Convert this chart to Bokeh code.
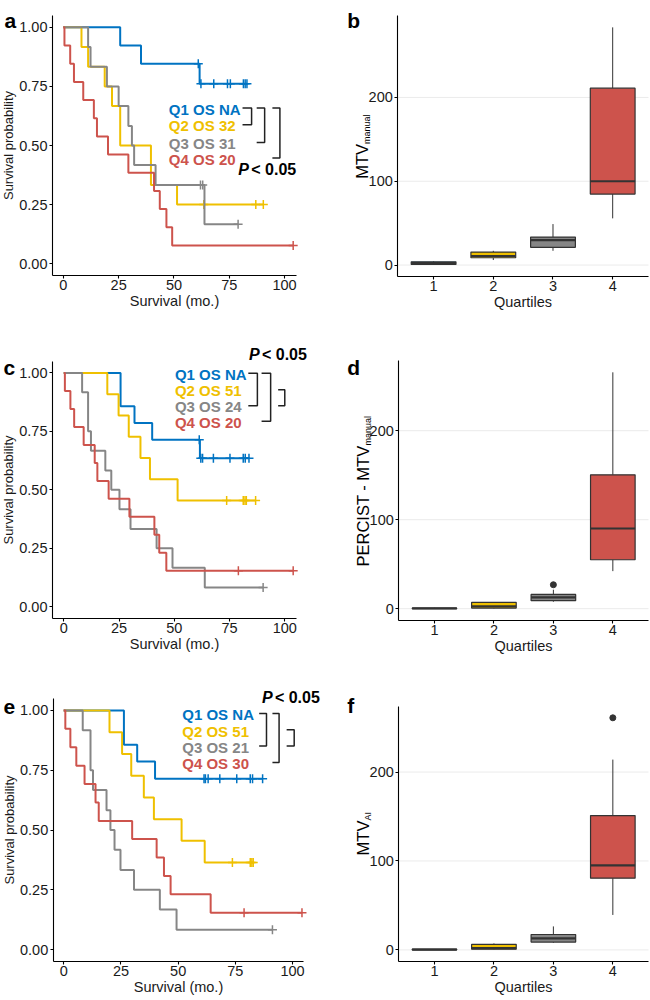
import numpy as np
from bokeh.plotting import figure
from bokeh.layouts import column, row
from bokeh.models import Label, FixedTicker, NumeralTickFormatter, Range1d, LinearAxis
from bokeh.embed import file_html
from bokeh.resources import INLINE

# ---------------- data ----------------
quartiles = ["Q1", "Q2", "Q3", "Q4"]
colors = ["#0073C2", "#EFC000", "#868686", "#CD534C"]
box_positions = [1, 2, 3, 4]

# Panel a (Kaplan-Meier, MTV manual quartiles): drop times, survival after drop, censor times
a_q1_times = [25.7, 35.1, 61.6]
a_q1_surv = [0.923, 0.846, 0.761]
a_q1_cens = [61.0, 62.2, 68.0, 74.2, 75.5, 81.4, 82.2, 83.0]
a_q2_times = [8.2, 11.2, 18.7, 22.0, 25.7, 39.6, 51.4]
a_q2_surv = [0.917, 0.833, 0.750, 0.667, 0.500, 0.333, 0.250]
a_q2_cens = [63.5, 87.0, 90.4]
a_q3_times = [11.2, 12.3, 19.7, 25.0, 29.4, 31.0, 32.0, 41.7, 63.8]
a_q3_surv = [0.917, 0.833, 0.750, 0.667, 0.583, 0.500, 0.417, 0.333, 0.167]
a_q3_cens = [62.0, 63.0, 79.0]
a_q4_times = [0.5, 3.1, 4.8, 9.0, 13.8, 15.2, 20.2, 29.4, 41.0, 43.6, 46.6, 49.2]
a_q4_surv = [0.923, 0.846, 0.769, 0.692, 0.615, 0.538, 0.462, 0.385, 0.308, 0.231, 0.154, 0.077]
a_q4_cens = [103.9]
a_legend = ["Q1 OS NA", "Q2 OS 32", "Q3 OS 31", "Q4 OS 20"]
a_pairs = [(0, 1), (0, 2), (0, 3)]

# Panel c (Kaplan-Meier, PERCIST MTV quartiles)
c_q1_times = [25.7, 32.0, 40.0, 61.6]
c_q1_surv = [0.857, 0.786, 0.714, 0.635]
c_q1_cens = [61.3, 62.0, 62.8, 67.7, 75.2, 81.2, 82.1, 83.8]
c_q2_times = [19.7, 24.8, 29.4, 34.7, 39.0, 51.5]
c_q2_surv = [0.909, 0.818, 0.727, 0.636, 0.545, 0.455]
c_q2_cens = [73.7, 81.2, 82.0, 82.6, 86.8]
c_q3_times = [8.3, 11.0, 12.3, 18.8, 21.5, 25.2, 30.2, 42.0, 49.2, 63.8]
c_q3_surv = [0.917, 0.750, 0.667, 0.583, 0.500, 0.417, 0.333, 0.250, 0.167, 0.083]
c_q3_cens = [90.2]
c_q4_times = [0.5, 3.0, 4.7, 9.0, 14.0, 15.2, 20.3, 29.7, 41.0, 43.2, 46.4]
c_q4_surv = [0.923, 0.846, 0.769, 0.692, 0.615, 0.538, 0.462, 0.385, 0.308, 0.231, 0.154]
c_q4_cens = [79.0, 103.8]
c_legend = ["Q1 OS NA", "Q2 OS 51", "Q3 OS 24", "Q4 OS 20"]
c_pairs = [(0, 2), (0, 3), (1, 2)]

# Panel e (Kaplan-Meier, AI MTV quartiles)
e_q1_times = [26.3, 32.1, 39.9]
e_q1_surv = [0.857, 0.786, 0.714]
e_q1_cens = [61.3, 61.9, 63.1, 68.2, 75.6, 81.5, 82.5, 86.9]
e_q2_times = [20.0, 25.5, 29.5, 35.0, 39.4, 51.5, 61.6]
e_q2_surv = [0.909, 0.818, 0.727, 0.636, 0.545, 0.455, 0.364]
e_q2_cens = [73.7, 81.5, 82.2, 82.8]
e_q3_times = [8.3, 11.7, 12.8, 18.7, 20.4, 22.2, 24.8, 30.7, 42.0, 49.3]
e_q3_surv = [0.917, 0.750, 0.667, 0.583, 0.500, 0.417, 0.333, 0.250, 0.167, 0.083]
e_q3_cens = [91.2]
e_q4_times = [0.7, 2.9, 5.5, 9.1, 13.9, 15.3, 29.9, 40.6, 43.8, 46.7, 64.2]
e_q4_surv = [0.923, 0.846, 0.769, 0.692, 0.615, 0.538, 0.462, 0.385, 0.308, 0.231, 0.154]
e_q4_cens = [78.8, 104.1]
e_legend = ["Q1 OS NA", "Q2 OS 51", "Q3 OS 21", "Q4 OS 30"]
e_pairs = [(0, 2), (0, 3), (1, 2)]

# Box plots (lower whisker, Q1, median, Q3, upper whisker, outliers)
b_lower = [0.5, 6.0, 17.0, 55.7]
b_q1 = [0.8, 8.7, 21.1, 84.7]
b_median = [2.4, 10.8, 29.8, 100.0]
b_q3 = [3.9, 15.5, 33.4, 211.0]
b_upper = [4.7, 17.0, 48.9, 283.6]
b_out_x = []
b_out_y = []

d_lower = [0.0, 0.3, 7.8, 42.2]
d_q1 = [0.1, 0.7, 9.0, 55.0]
d_median = [0.3, 2.5, 12.7, 90.1]
d_q3 = [0.6, 7.1, 16.0, 150.4]
d_upper = [1.0, 7.5, 21.3, 265.6]
d_out_x = [3]
d_out_y = [26.9]

f_lower = [0.0, 0.3, 8.0, 39.3]
f_q1 = [0.1, 0.7, 8.8, 80.7]
f_median = [0.4, 2.0, 12.9, 95.0]
f_q3 = [0.8, 6.3, 17.3, 151.0]
f_upper = [1.0, 7.3, 26.4, 214.0]
f_out_x = [4]
f_out_y = [261.0]

km_x_ticks = [0, 25, 50, 75, 100]
km_y_ticks = [0.0, 0.25, 0.5, 0.75, 1.0]
box_y_ticks = [0, 100, 200]

# ---------------- styling / layout ----------------
FONT = "Liberation Sans"
INK = "#1a1a1a"
EDGE = "#333333"
KM_YR = (-0.05, 1.05)
BOX_XR = (0.4, 4.6)


class Geo:
    """Canvas W x H; the panel box sits l/r/t/b pixels inside the canvas."""
    def __init__(self, W, H, l, r, t, b, xr, yr):
        self.W, self.H, self.l, self.r, self.t, self.b = W, H, l, r, t, b
        self.xr, self.yr = xr, yr
        self.fw = W - l - r
        self.fh = H - t - b
        self.ux = (xr[1] - xr[0]) / self.fw
        self.uy = (yr[1] - yr[0]) / self.fh

    def x(self, dx):
        return self.xr[0] + dx * self.ux

    def y(self, dy):
        return self.yr[1] - dy * self.uy


def box_range(lower, upper, outy):
    lo = min(lower + outy)
    hi = max(upper + outy)
    span = hi - lo
    return (lo - 0.05 * span, hi + 0.05 * span)


def make_fig(g):
    p = figure(width=g.W, height=g.H,
               x_range=Range1d(g.xr[0] - g.l * g.ux, g.xr[1] + g.r * g.ux),
               y_range=Range1d(g.yr[0] - g.b * g.uy, g.yr[1] + g.t * g.uy),
               x_axis_location=None, y_axis_location=None, title=None,
               toolbar_location=None, output_backend="svg", min_border=0)
    p.outline_line_color = None
    p.background_fill_color = "white"
    p.border_fill_color = "white"
    for gr in p.grid:
        gr.visible = False
    xaxis = LinearAxis(fixed_location=g.yr[0], bounds=g.xr)
    yaxis = LinearAxis(fixed_location=g.xr[0], bounds=g.yr)
    p.add_layout(xaxis, "below")
    p.add_layout(yaxis, "left")
    for ax in (xaxis, yaxis):
        ax.axis_line_color = "black"
        ax.axis_line_width = 1.1
        ax.major_tick_line_color = "black"
        ax.major_tick_line_width = 1.1
        ax.major_tick_out = 3
        ax.major_tick_in = 0
        ax.minor_tick_line_color = None
        ax.major_label_text_font = FONT
        ax.major_label_text_font_size = "14.5px"
        ax.major_label_text_color = INK
        ax.axis_label_text_font = FONT
        ax.axis_label_text_font_style = "normal"
        ax.axis_label_text_color = INK
    xaxis.major_label_standoff = 1
    yaxis.major_label_standoff = 2
    xaxis.axis_label_standoff = 0
    yaxis.axis_label_standoff = 0
    xaxis.axis_label_text_font_size = "14.5px"
    yaxis.axis_label_text_font_size = "13px"
    return p, xaxis, yaxis


def panel_letter(p, g, letter, dx, dy):
    p.add_layout(Label(x=g.x(dx), y=g.y(dy), text=letter, text_font=FONT,
                       text_font_style="bold", text_font_size="21px",
                       text_color="black", text_align="left", text_baseline="alphabetic"))


def surv_at(times, surv, t):
    s = 1.0
    for ti, si in zip(times, surv):
        if ti <= t:
            s = si
    return s


def km_panel(g, groups, legend, pairs, lx, ly, bx, pl, py, letter, ldx, ldy):
    p, xaxis, yaxis = make_fig(g)
    xaxis.ticker = FixedTicker(ticks=km_x_ticks)
    yaxis.ticker = FixedTicker(ticks=km_y_ticks)
    yaxis.formatter = NumeralTickFormatter(format="0.00")
    xaxis.axis_label = "Survival (mo.)"
    yaxis.axis_label = "Survival probability"
    for (times, surv, cens), col in zip(groups, colors):
        end = max(cens + times)
        xs = [0.0] + times + [end]
        ys = [1.0] + surv + [surv[-1]]
        p.step(xs, ys, mode="after", line_color=col, line_width=2)
        p.scatter(cens, [surv_at(times, surv, c) for c in cens], marker="cross",
                  size=9, line_color=col, line_width=1.5)
    for txt, yy, col in zip(legend, ly, colors):
        p.add_layout(Label(x=lx, y=yy, text=txt, text_color=col, text_font=FONT,
                           text_font_style="bold", text_font_size="15px",
                           text_align="left", text_baseline="middle"))
    bxs, bys = [], []
    for (i, j), (x0, x1) in zip(pairs, bx):
        y0 = ly[i] + 0.005
        y1 = ly[j] + 0.005
        bxs.append([x0, x1, x1, x0])
        bys.append([y0, y0, y1, y1])
    p.multi_line(bxs, bys, line_color="#222222", line_width=1.5)
    p.add_layout(Label(x=pl, y=py, text="P", text_color="black", text_font=FONT,
                       text_font_style="bold italic", text_font_size="16px",
                       text_align="left", text_baseline="middle"))
    p.add_layout(Label(x=pl + 13 * g.ux, y=py, text="< 0.05", text_color="black",
                       text_font=FONT, text_font_style="bold", text_font_size="16px",
                       text_align="left", text_baseline="middle"))
    panel_letter(p, g, letter, ldx, ldy)
    return p


def box_panel(g, lower, q1, med, q3, upper, ox, oy, main, sub, join_off, letter, ldx, ldy):
    p, xaxis, yaxis = make_fig(g)
    xaxis.ticker = FixedTicker(ticks=box_positions)
    yaxis.ticker = FixedTicker(ticks=box_y_ticks)
    xaxis.axis_label = "Quartiles"
    n = len(box_y_ticks)
    p.segment([g.xr[0]] * n, box_y_ticks, [g.xr[1]] * n, box_y_ticks,
              line_color="#EBEBEB", line_width=1, level="underlay")
    x = box_positions
    p.segment(x, q3, x, upper, line_color=EDGE, line_width=1)
    p.segment(x, lower, x, q1, line_color=EDGE, line_width=1)
    p.vbar(x=x, width=0.75, bottom=q1, top=q3, fill_color=colors,
           line_color=EDGE, line_width=1.2)
    half = 0.375
    p.segment([v - half for v in x], med, [v + half for v in x], med,
              line_color=EDGE, line_width=2.2)
    if ox:
        p.scatter(ox, oy, size=6, color=EDGE)
    yj = g.y(g.fh / 2 + join_off)
    p.add_layout(Label(x=g.x(-36), y=yj, text=main, angle=np.pi / 2, text_font=FONT,
                       text_font_size="16.5px", text_color="black",
                       text_align="right", text_baseline="alphabetic"))
    p.add_layout(Label(x=g.x(-31), y=yj, text=sub, angle=np.pi / 2, text_font=FONT,
                       text_font_size="9px", text_color="black",
                       text_align="left", text_baseline="alphabetic"))
    panel_letter(p, g, letter, ldx, ldy)
    return p


W = 325
H1, H2, H3 = 330, 330, 340

ga = Geo(W, H1, 52, 29, 15, 55, (-4.9, 105.4), KM_YR)
gc = Geo(W, H2, 52, 29, 30.7, 42, (-5.1, 105.3), KM_YR)
ge = Geo(W, H3, 52.7, 21.7, 38, 39, (-4.6, 104.9), KM_YR)
gb = Geo(W, H1, 72.3, 2, 15, 54, BOX_XR, box_range(b_lower, b_upper, b_out_y))
gd = Geo(W, H2, 73.3, 2, 30, 40, BOX_XR, box_range(d_lower, d_upper, d_out_y))
gf = Geo(W, H3, 73.3, 2, 45.7, 39, BOX_XR, box_range(f_lower, f_upper, f_out_y))

pa = km_panel(ga,
              [(a_q1_times, a_q1_surv, a_q1_cens), (a_q2_times, a_q2_surv, a_q2_cens),
               (a_q3_times, a_q3_surv, a_q3_cens), (a_q4_times, a_q4_surv, a_q4_cens)],
              a_legend, a_pairs, 47.7, [0.654, 0.583, 0.508, 0.442],
              [(81.0, 85.1), (87.4, 91.0), (94.5, 97.9)], 79.1, 0.400,
              "a", -48, 5)
pc = km_panel(gc,
              [(c_q1_times, c_q1_surv, c_q1_cens), (c_q2_times, c_q2_surv, c_q2_cens),
               (c_q3_times, c_q3_surv, c_q3_cens), (c_q4_times, c_q4_surv, c_q4_cens)],
              c_legend, c_pairs, 50.3, [0.994, 0.923, 0.855, 0.788],
              [(83.5, 87.6), (89.5, 93.6), (97.0, 100.0)], 83.8, 1.080,
              "c", -49, 6)
pe = km_panel(ge,
              [(e_q1_times, e_q1_surv, e_q1_cens), (e_q2_times, e_q2_surv, e_q2_cens),
               (e_q3_times, e_q3_surv, e_q3_cens), (e_q4_times, e_q4_surv, e_q4_cens)],
              e_legend, e_pairs, 51.8, [0.982, 0.914, 0.846, 0.777],
              [(85.4, 88.6), (91.2, 94.1), (97.4, 100.7)], 86.6, 1.053,
              "e", -49.7, 8.7)

pb = box_panel(gb, b_lower, b_q1, b_median, b_q3, b_upper, b_out_x, b_out_y,
               "MTV", "manual", -2, "b", -50.6, 5)
pd = box_panel(gd, d_lower, d_q1, d_median, d_q3, d_upper, d_out_x, d_out_y,
               "PERCIST - MTV", "manual", -45, "d", -51.6, 6.7)
pf = box_panel(gf, f_lower, f_q1, f_median, f_q3, f_upper, f_out_x, f_out_y,
               "MTV", "AI", -13.3, "f", -51.6, -0.7)

layout = column(row(pa, pb), row(pc, pd), row(pe, pf))

open("out.html", "w").write(file_html(layout, INLINE))
